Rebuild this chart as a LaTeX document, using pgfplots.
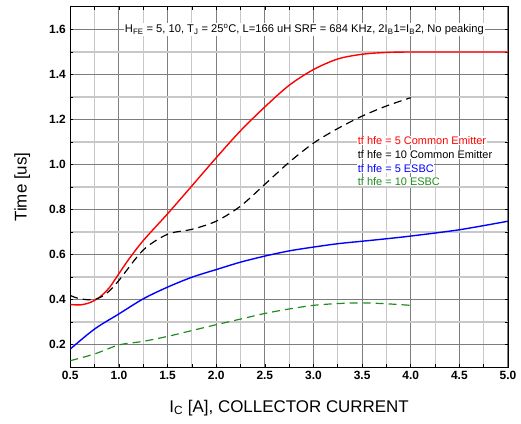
\documentclass[border=0pt]{standalone}
\usepackage{fontspec}
\setmainfont{Liberation Sans}
\usepackage{pgfplots}
\pgfplotsset{compat=1.18}
\definecolor{mygreen}{RGB}{30,140,30}
\definecolor{majgrid}{RGB}{125,125,125}
\definecolor{mingrid}{RGB}{200,200,200}
\begin{document}
\begin{tikzpicture}[x=1bp,y=1bp]
\path[use as bounding box] (0,0) rectangle (521,423);
\begin{axis}[
  at={(70.3bp,56bp)}, anchor=south west,
  width=437.7bp, height=360bp, scale only axis,
  xmin=0.5, xmax=5, ymin=0.1, ymax=1.7,
  xtick={0.5,1,1.5,2,2.5,3,3.5,4,4.5,5},
  minor xtick={0.75,1.25,1.75,2.25,2.75,3.25,3.75,4.25,4.75},
  ytick={0.2,0.4,0.6,0.8,1.0,1.2,1.4,1.6},
  minor ytick={0.3,0.5,0.7,0.9,1.1,1.3,1.5},
  grid=both,
  major grid style={majgrid, line width=1.1pt},
  minor grid style={mingrid, line width=1.1pt},
  axis line style={black, line width=1pt},
  tick style={black, line width=0.6pt},
  major tick length=3bp, minor tick length=3bp,
  /pgf/number format/assume math mode=true,
  /pgf/number format/.cd, fixed, fixed zerofill, precision=1,
  /pgfplots/.cd,
  ticklabel style={font=\fontsize{12}{14}\selectfont\bfseries},
  xticklabel style={yshift=-1bp},
  yticklabel style={xshift=-1bp},
  xlabel={I\textsubscript{C} [A], COLLECTOR CURRENT},
  ylabel={Time [us]},
  label style={font=\fontsize{17}{20}\selectfont},
  xlabel style={at={(axis description cs:0.5,0)}, anchor=center, yshift=-41bp},
  ylabel style={at={(axis description cs:-0.110,0.5)}, anchor=center},
  clip=true,
]
% red: tf hfe=5 Common Emitter
\addplot[red, line width=1.4pt, smooth, tension=0.5] coordinates {
(0.5,0.378) (0.6,0.376) (0.7,0.386) (0.8,0.410) (0.9,0.452) (1.0,0.515) (1.1,0.578) (1.25,0.662) (1.5,0.781)
(1.75,0.905) (2.0,1.030) (2.25,1.150) (2.5,1.256) (2.75,1.352) (3.0,1.422) (3.25,1.469)
(3.5,1.490) (3.75,1.498) (4.0,1.500) (4.5,1.500) (5.0,1.500)};
% black dashed: tf hfe=10 Common Emitter
\addplot[black, line width=1.2pt, dash pattern=on 8bp off 5bp, smooth, tension=0.5] coordinates {
(0.5,0.418) (0.6,0.403) (0.75,0.400) (0.875,0.428) (1.0,0.485) (1.25,0.620) (1.5,0.690)
(1.75,0.712) (2.0,0.748) (2.25,0.815) (2.5,0.912) (2.75,1.010) (3.0,1.095) (3.25,1.160)
(3.5,1.215) (3.75,1.260) (4.0,1.297)};
% blue: tf hfe=5 ESBC
\addplot[blue, line width=1.4pt, smooth, tension=0.5] coordinates {
(0.5,0.180) (0.75,0.269) (1.0,0.336) (1.25,0.403) (1.5,0.455) (1.75,0.499) (2.0,0.533)
(2.25,0.566) (2.5,0.593) (2.75,0.616) (3.0,0.633) (3.25,0.648) (3.5,0.659) (3.75,0.670)
(4.0,0.682) (4.5,0.710) (5.0,0.748)};
% green dashed: tf hfe=10 ESBC
\addplot[mygreen, line width=1.2pt, dash pattern=on 8bp off 5bp, smooth, tension=0.5] coordinates {
(0.5,0.128) (0.75,0.158) (1.0,0.198) (1.25,0.214) (1.5,0.236) (1.75,0.262) (2.0,0.288)
(2.25,0.313) (2.5,0.338) (2.75,0.358) (3.0,0.374) (3.25,0.382) (3.5,0.385) (3.75,0.381)
(4.0,0.374)};
\node[fill=white, inner sep=1bp, font=\fontsize{11.2}{13}\selectfont] at (axis cs:2.907,1.6)
  {H\textsubscript{FE} = 5, 10, T\textsubscript{J} = 25\textsuperscript{o}C, L=166 uH SRF = 684 KHz, 2I\textsubscript{B}1=I\textsubscript{B}2, No peaking};
\node[anchor=west, fill=white, inner sep=0.5bp, text=red, font=\fontsize{11}{13}\selectfont] at (axis cs:3.45,1.107) {tf hfe = 5 Common Emitter};
\node[anchor=west, fill=white, inner sep=0.5bp, text=black, font=\fontsize{11}{13}\selectfont] at (axis cs:3.45,1.045) {tf hfe = 10 Common Emitter};
\node[anchor=west, fill=white, inner sep=0.5bp, text=blue, font=\fontsize{11}{13}\selectfont] at (axis cs:3.45,0.983) {tf hfe = 5 ESBC};
\node[anchor=west, fill=white, inner sep=0.5bp, text=mygreen, font=\fontsize{11}{13}\selectfont] at (axis cs:3.45,0.923) {tf hfe = 10 ESBC};
\end{axis}
\end{tikzpicture}
\end{document}
